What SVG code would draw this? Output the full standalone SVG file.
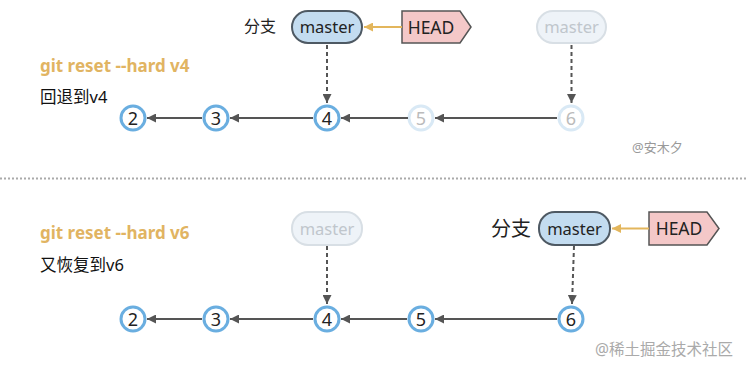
<svg xmlns="http://www.w3.org/2000/svg" width="747" height="369" viewBox="0 0 747 369">
<defs>
<marker id="ah" viewBox="0 0 10 10" refX="10" refY="5" markerWidth="9" markerHeight="9" markerUnits="userSpaceOnUse" orient="auto"><path d="M0,0 L10,5 L0,10 Z" fill="#555"/></marker>
<marker id="ahy" viewBox="0 0 10 10" refX="10" refY="5" markerWidth="9" markerHeight="9" markerUnits="userSpaceOnUse" orient="auto"><path d="M0,0 L10,5 L0,10 Z" fill="#e3b65c"/></marker>
</defs>
<style>
text{font-family:"Noto Sans","Noto Sans CJK SC",sans-serif;}
.cmd{font-size:17px;font-weight:bold;fill:#e1b462;}
.lbl{font-size:16.5px;fill:#111;}
.c circle{fill:#fff;stroke:#6aaee0;stroke-width:3;}
.c text{font-size:18px;fill:#222;text-anchor:middle;}
.f circle{stroke:#d9e9f5;}
.f text{fill:#bbb;}
.m rect{fill:#c3dcf0;stroke:#4e5963;stroke-width:2;}
.m text{font-size:16.5px;fill:#222;text-anchor:middle;}
.mf rect{fill:#eef3f8;stroke:#d8dfe5;}
.mf text{fill:#c0c6cc;}
.h path{fill:#f4c8c8;stroke:#555;stroke-width:1.5;}
.h text{font-size:17.5px;fill:#222;text-anchor:middle;}
.e{stroke:#555;stroke-width:2;fill:none;marker-end:url(#ah);}
.d{stroke:#555;stroke-width:2;fill:none;stroke-dasharray:4 3;marker-end:url(#ah);}
.y{stroke:#e3b65c;stroke-width:2;fill:none;marker-end:url(#ahy);}
.wm{font-size:13px;fill:#999;}
</style>

<!-- top section texts -->
<text class="cmd" x="40" y="72">git reset --hard v4</text>
<text class="lbl" x="40" y="103">回退到v4</text>
<text x="244" y="32" style="font-size:16px;fill:#222">分支</text>

<g id="top-master" class="m"><rect x="292" y="11" width="70" height="32" rx="16"/><text x="327" y="33">master</text></g>
<g id="top-head" class="h"><path d="M402,11 H460 L471,27 L460,43 H402 Z"/><text x="431" y="33.5">HEAD</text></g>
<g id="top-master-old" class="m mf"><rect x="537" y="11" width="69" height="32" rx="16"/><text x="571.5" y="33">master</text></g>

<g id="t2" class="c"><circle cx="133" cy="118" r="12"/><text x="133" y="124.5">2</text></g>
<g id="t3" class="c"><circle cx="216" cy="118" r="12"/><text x="216" y="124.5">3</text></g>
<g id="t4" class="c"><circle cx="327" cy="118" r="12"/><text x="327" y="124.5">4</text></g>
<g id="t5" class="c f"><circle cx="421" cy="118" r="12"/><text x="421" y="124.5">5</text></g>
<g id="t6" class="c f"><circle cx="571" cy="118" r="12"/><text x="571" y="124.5">6</text></g>

<text class="wm" x="632" y="152">@安木夕</text>

<line x1="0" y1="178.5" x2="747" y2="178.5" stroke="#aaa" stroke-width="2" stroke-dasharray="2 2"/>

<!-- bottom section texts -->
<text class="cmd" x="40" y="239">git reset --hard v6</text>
<text class="lbl" x="40" y="271">又恢复到v6</text>
<text x="491" y="236" style="font-size:20px;fill:#222">分支</text>

<g id="bot-master-old" class="m mf"><rect x="292" y="212" width="70" height="33" rx="16"/><text x="327" y="234.5">master</text></g>
<g id="bot-master" class="m"><rect x="539" y="212" width="71" height="33" rx="16"/><text x="574.5" y="234.5">master</text></g>
<g id="bot-head" class="h"><path d="M649,212 H707 L719,228.5 L707,245 H649 Z"/><text x="679" y="235">HEAD</text></g>

<g id="b2" class="c"><circle cx="133" cy="319" r="12"/><text x="133" y="325.5">2</text></g>
<g id="b3" class="c"><circle cx="216" cy="319" r="12"/><text x="216" y="325.5">3</text></g>
<g id="b4" class="c"><circle cx="327" cy="319" r="12"/><text x="327" y="325.5">4</text></g>
<g id="b5" class="c"><circle cx="421" cy="319" r="12"/><text x="421" y="325.5">5</text></g>
<g id="b6" class="c"><circle cx="571" cy="319" r="12"/><text x="571" y="325.5">6</text></g>

<text class="wm" x="595" y="355" style="font-size:15.5px;fill:#aaa">@稀土掘金技术社区</text>

<g id="connectors">
<line class="y" x1="402" y1="27" x2="364" y2="27"/>
<line class="d" x1="327" y1="45" x2="327" y2="103"/>
<line class="d" x1="571.5" y1="45" x2="571.5" y2="103"/>
<line class="e" x1="202" y1="118" x2="147" y2="118"/>
<line class="e" x1="313" y1="118" x2="230" y2="118"/>
<line class="e" x1="408" y1="118" x2="341" y2="118"/>
<line class="e" x1="557" y1="118" x2="435" y2="118"/>

<line class="y" x1="649" y1="228.5" x2="612" y2="228.5"/>
<line class="d" x1="327" y1="246" x2="327" y2="304"/>
<line class="d" x1="574" y1="246" x2="572" y2="304"/>
<line class="e" x1="202" y1="319" x2="147" y2="319"/>
<line class="e" x1="313" y1="319" x2="230" y2="319"/>
<line class="e" x1="407" y1="319" x2="341" y2="319"/>
<line class="e" x1="557" y1="319" x2="435" y2="319"/>
</g>
</svg>
